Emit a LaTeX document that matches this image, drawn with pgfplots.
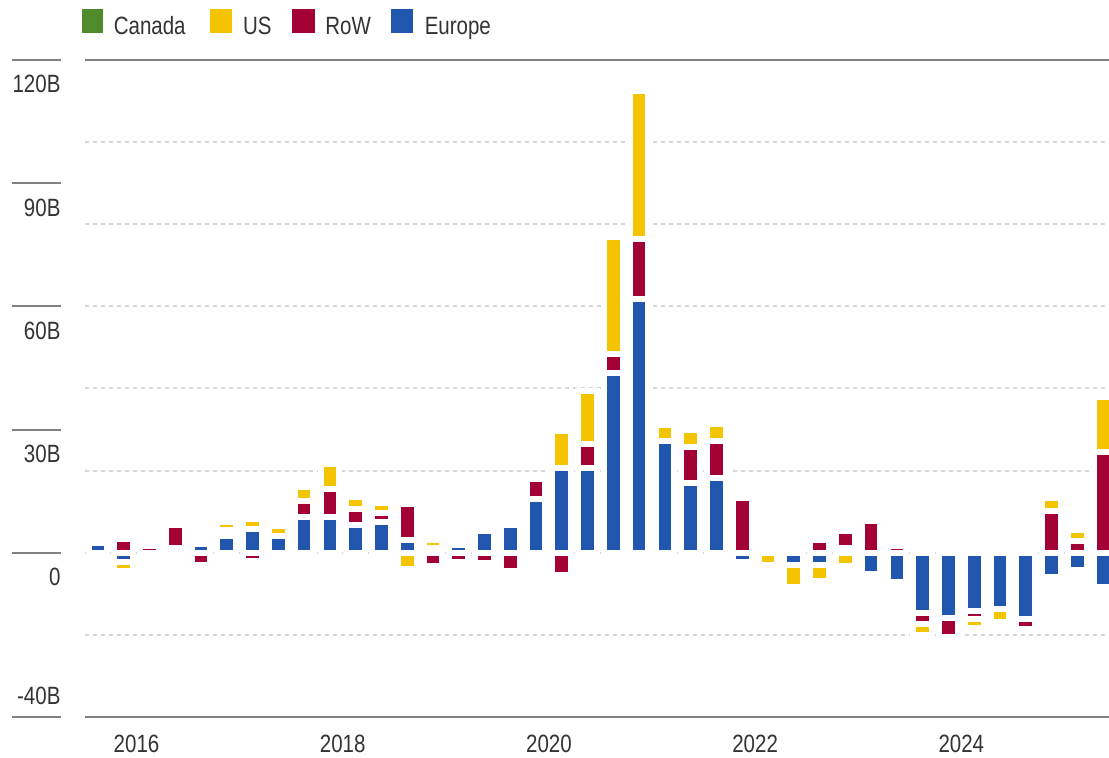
\documentclass[border=0pt]{standalone}
\usepackage{fontspec}
\setmainfont{Liberation Sans}[FakeStretch=0.82]
\usepackage{pgfplots}
\usepackage{pgfplotstable}
\pgfplotsset{compat=1.18}

\definecolor{ccan}{HTML}{4F8A2B}
\definecolor{cus}{HTML}{F5C400}
\definecolor{crow}{HTML}{A30034}
\definecolor{ceu}{HTML}{2156AE}
\definecolor{ctxt}{HTML}{333333}
\definecolor{cline}{HTML}{808080}
\definecolor{cgrid}{HTML}{D6D6D6}

% quarterly flows, 2016 Q1 = 0 ... 2025 Q4 = 39 (billions)
% positive parts, stacked upwards: Europe, RoW, US
\pgfplotstableread{
q  eu    row   us
0  2.3   0     0
1  0     3.4   0
2  0     1.7   0
3  1.2   5.5   0
4  2.1   0     0
5  4.0   1.6   1.8
6  5.75  0     2.4
7  4.2   0     2.3
8  8.7   3.9   3.4
9  8.7   6.8   6.2
10 6.7   3.9   2.9
11 7.45  2.25  2.4
12 3.1   8.8   0
13 1.1   0     2.1
14 1.9   0     0
15 5.2   0     0
16 6.8   0     0
17 13.0  5.0   0
18 20.6  0     9.1
19 20.7  5.8   12.8
20 43.8  4.7   28.3
21 61.9  14.4  36.1
22 27.2  0     4.0
23 17.0  8.8   4.0
24 18.1  9.0   4.3
25 0     13.4  0
26 0     0     0
27 0     0     0
28 0     3.15  0
29 1.1   4.15  0
30 0     7.75  0
31 0     1.7   0
32 0     0     0
33 0     0     0
34 0     0     0
35 0     0     0
36 0     0     0
37 0     10.2  3.15
38 0     2.9   2.75
39 0     24.6  13.3
}\flowpos

% negative parts, stacked downwards: Europe, RoW, US
\pgfplotstableread{
q  eu     row    us
0  0      0      0
1  -2.3   0      -2.2
2  0      0      0
3  0      0      0
4  0      -2.9   0
5  0      0      0
6  0      -1.95  0
7  0      0      0
8  0      0      0
9  0      0      0
10 0      0      0
11 0      0      0
12 0      0      -4.05
13 0      -3.2   0
14 0      -2.25  0
15 0      -2.4   0
16 0      -4.4   0
17 0      0      0
18 0      -5.4   0
19 0      0      0
20 0      0      0
21 0      0      0
22 0      0      0
23 0      0      0
24 0      0      0
25 -2.35  0      0
26 0      0      -2.9
27 -3.1   0      -5.2
28 -2.9   0      -4.0
29 0      0      -3.3
30 -5.2   0      0
31 -7.1   0      0
32 -14.7  -2.7   -2.7
33 -15.9  -4.7   0
34 -14.15 -1.9   -2.35
35 -13.7  0      -3.2
36 -16.1  -2.35  0
37 -5.8   0      0
38 -4.2   0      0
39 -8.3   0      0
}\flowneg

\pgfplotsset{
  flowbase/.style={
    scale only axis, width=512pt, height=328.5pt,
    at={(42.5pt,-358.5pt)}, anchor=south west,
    xmin=-0.5, xmax=39.23, ymin=-40, ymax=120,
    ybar stacked, bar width=0.725,
    clip=false,
    axis line style={draw=none},
    tick style={draw=none},
    xtick=\empty,
  },
  seg/.style={fill=#1, draw=white, line width=3pt},
}

\newcommand{\lab}{\fontsize{12.5}{15}\selectfont\color{ctxt}}

\begin{document}
\begin{tikzpicture}
\useasboundingbox (0,0) rectangle (554.5pt,-379pt);

% legend
\fill[ccan] (40.85pt,-4.5pt) rectangle (51.65pt,-16.4pt);
\node[anchor=base west, inner sep=0pt, font=\lab] at (56.7pt,-17.5pt) {Canada};
\fill[cus] (105pt,-4.5pt) rectangle (116pt,-16.4pt);
\node[anchor=base west, inner sep=0pt, font=\lab] at (121.3pt,-17.5pt) {US};
\fill[crow] (146.2pt,-4.5pt) rectangle (157.4pt,-16.4pt);
\node[anchor=base west, inner sep=0pt, font=\lab] at (162.5pt,-17.5pt) {RoW};
\fill[ceu] (195.5pt,-4.5pt) rectangle (206.7pt,-16.4pt);
\node[anchor=base west, inner sep=0pt, font=\lab] at (212.2pt,-17.5pt) {Europe};

\begin{axis}[flowbase,
    ytick={-20,0,20,40,60,80,100}, yticklabels={},
    ymajorgrids,
    grid style={cgrid, line width=1pt, dash pattern=on 2pt off 2pt},
]
\addplot[seg=ceu]  table[x=q, y=eu]  {\flowpos};
\addplot[seg=crow] table[x=q, y=row] {\flowpos};
\addplot[seg=cus]  table[x=q, y=us]  {\flowpos};

% frame lines top and bottom
\draw[cline, line width=1pt] (rel axis cs:0,1) -- (rel axis cs:1,1);
\draw[cline, line width=1pt] (rel axis cs:0,0) -- (rel axis cs:1,0);

% y labels with short rules
\draw[cline, line width=1pt] (axis cs:-3.337,120) -- (axis cs:-1.436,120);
\draw[cline, line width=1pt] (axis cs:-3.337,90) -- (axis cs:-1.436,90);
\draw[cline, line width=1pt] (axis cs:-3.337,60) -- (axis cs:-1.436,60);
\draw[cline, line width=1pt] (axis cs:-3.337,30) -- (axis cs:-1.436,30);
\draw[cline, line width=1pt] (axis cs:-3.337,0) -- (axis cs:-1.436,0);
\draw[cline, line width=1pt] (axis cs:-3.337,-40) -- (axis cs:-1.436,-40);
\node[anchor=north east, inner sep=0pt, yshift=-7.5pt, font=\lab] at (axis cs:-1.436,120) {120B};
\node[anchor=north east, inner sep=0pt, yshift=-7.5pt, font=\lab] at (axis cs:-1.436,90) {90B};
\node[anchor=north east, inner sep=0pt, yshift=-7.5pt, font=\lab] at (axis cs:-1.436,60) {60B};
\node[anchor=north east, inner sep=0pt, yshift=-7.5pt, font=\lab] at (axis cs:-1.436,30) {30B};
\node[anchor=north east, inner sep=0pt, yshift=-7.5pt, font=\lab] at (axis cs:-1.436,0) {0};
\node[anchor=base east, inner sep=0pt, yshift=6pt, font=\lab] at (axis cs:-1.436,-40) {-40B};

% year labels
\node[anchor=north, inner sep=0pt, yshift=-9pt, font=\lab] at (axis cs:1.5,-40) {2016};
\node[anchor=north, inner sep=0pt, yshift=-9pt, font=\lab] at (axis cs:9.5,-40) {2018};
\node[anchor=north, inner sep=0pt, yshift=-9pt, font=\lab] at (axis cs:17.5,-40) {2020};
\node[anchor=north, inner sep=0pt, yshift=-9pt, font=\lab] at (axis cs:25.5,-40) {2022};
\node[anchor=north, inner sep=0pt, yshift=-9pt, font=\lab] at (axis cs:33.5,-40) {2024};
\end{axis}

\begin{axis}[flowbase, hide axis]
\addplot[seg=ceu]  table[x=q, y=eu]  {\flowneg};
\addplot[seg=crow] table[x=q, y=row] {\flowneg};
\addplot[seg=cus]  table[x=q, y=us]  {\flowneg};
\end{axis}
\end{tikzpicture}
\end{document}
